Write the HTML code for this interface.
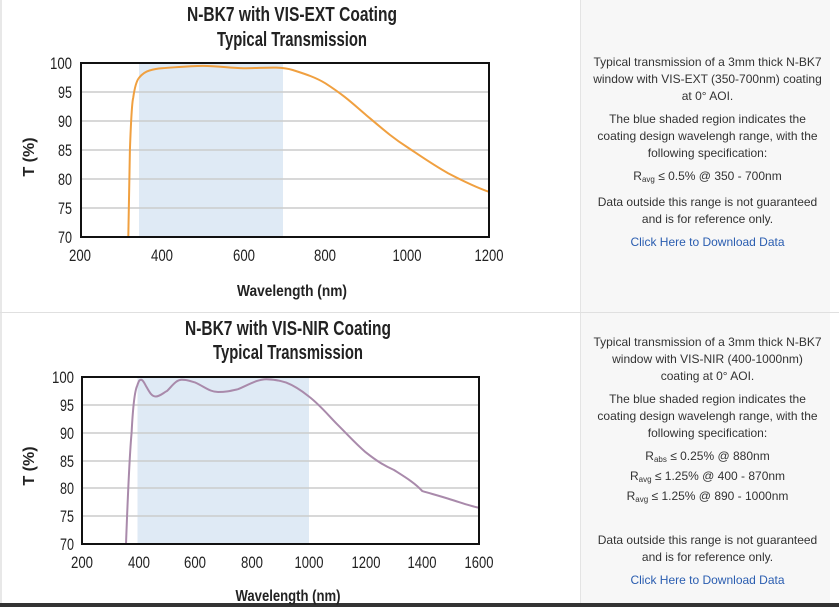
<!DOCTYPE html>
<html><head><meta charset="utf-8"><style>
body{margin:0;width:839px;height:607px;overflow:hidden;background:#fff;font-family:"Liberation Sans",sans-serif}
.side{position:absolute;left:580px;width:249px;background:#f7f7f7;border-left:1px solid #e4e4e4;text-align:center;font-size:12px;color:#333;line-height:17px}
.side > div{padding-left:12px;padding-right:8px}
.side p{margin:0 0 6px 0}
.side a{color:#2a5db0;text-decoration:none}
sub{font-size:8px;vertical-align:-2px}
</style></head><body>
<div style="position:absolute;left:0;top:0;width:2px;height:607px;background:#e8e8e8"></div>
<div style="position:absolute;left:0;top:312px;width:839px;height:1px;background:#e0e0e0"></div>
<div style="position:absolute;left:0;top:603px;width:839px;height:4px;background:#333"></div>
<div class="side" style="top:0;height:312px"><div style="padding-top:54px">
<p>Typical transmission of a 3mm thick N-BK7 window with VIS-EXT (350-700nm) coating at 0° AOI.</p>
<p>The blue shaded region indicates the coating design wavelengh range, with the following specification:</p>
<p>R<sub>avg</sub> ≤ 0.5% @ 350 - 700nm</p>
<p>Data outside this range is not guaranteed and is for reference only.</p>
<p><a>Click Here to Download Data</a></p></div></div>
<div class="side" style="top:313px;height:290px"><div style="padding-top:21px">
<p>Typical transmission of a 3mm thick N-BK7 window with VIS-NIR (400-1000nm) coating at 0° AOI.</p>
<p>The blue shaded region indicates the coating design wavelengh range, with the following specification:</p>
<p>R<sub>abs</sub> ≤ 0.25% @ 880nm<br>R<sub>avg</sub> ≤ 1.25% @ 400 - 870nm<br>R<sub>avg</sub> ≤ 1.25% @ 890 - 1000nm</p>
<p style="margin-top:24px">Data outside this range is not guaranteed and is for reference only.</p>
<p><a>Click Here to Download Data</a></p></div></div>
<svg width="580" height="607" style="position:absolute;left:0;top:0" font-family="Liberation Sans, sans-serif" font-weight="bold" fill="#222">
<text x="292" y="21" font-size="20" text-anchor="middle" textLength="210" lengthAdjust="spacingAndGlyphs">N-BK7 with VIS-EXT Coating</text>
<text x="292" y="46" font-size="20" text-anchor="middle" textLength="150" lengthAdjust="spacingAndGlyphs">Typical Transmission</text>
<rect x="139" y="63" width="144" height="174" fill="#dfeaf5"/>
<g stroke="#ccc" stroke-width="1.5"><line x1="81" x2="489" y1="92" y2="92"/><line x1="81" x2="489" y1="121" y2="121"/><line x1="81" x2="489" y1="150" y2="150"/><line x1="81" x2="489" y1="179" y2="179"/><line x1="81" x2="489" y1="208" y2="208"/></g>
<path d="M128.3,237 C129,200 129.5,160 129.9,150 C131,120 132,102 133.2,97.8 C135,85 137,80 139.3,77.5 C143,73 146,71.5 149.5,70.5 C155,68.8 158,68.4 161.8,68.2 C180,67 190,66 202.7,65.9 C220,66 230,68.2 243.6,68.2 C258,68 268,67.4 276.3,67.6 C284,67.8 288,68.5 292.7,70 C305,74 315,77 325.4,83.3 C345,96 352,103 366.3,115.2 C385,131 393,138 407.2,147.1 C425,159 435,166 448.1,173.2 C465,182 478,188 489,191.8" fill="none" stroke="#f0a040" stroke-width="2"/>
<rect x="81" y="63" width="408" height="174" fill="none" stroke="#111" stroke-width="2"/>
<g font-size="17" text-anchor="end" font-weight="normal" lengthAdjust="spacingAndGlyphs"><text x="72" y="69" textLength="22" lengthAdjust="spacingAndGlyphs">100</text><text x="72" y="98" textLength="14" lengthAdjust="spacingAndGlyphs">95</text><text x="72" y="127" textLength="14" lengthAdjust="spacingAndGlyphs">90</text><text x="72" y="156" textLength="14" lengthAdjust="spacingAndGlyphs">85</text><text x="72" y="185" textLength="14" lengthAdjust="spacingAndGlyphs">80</text><text x="72" y="214" textLength="14" lengthAdjust="spacingAndGlyphs">75</text><text x="72" y="243" textLength="14" lengthAdjust="spacingAndGlyphs">70</text></g>
<g font-size="17" text-anchor="middle" font-weight="normal"><text x="80" y="261" textLength="22" lengthAdjust="spacingAndGlyphs">200</text><text x="162" y="261" textLength="22" lengthAdjust="spacingAndGlyphs">400</text><text x="244" y="261" textLength="22" lengthAdjust="spacingAndGlyphs">600</text><text x="325" y="261" textLength="22" lengthAdjust="spacingAndGlyphs">800</text><text x="407" y="261" textLength="29" lengthAdjust="spacingAndGlyphs">1000</text><text x="489" y="261" textLength="29" lengthAdjust="spacingAndGlyphs">1200</text></g>
<text x="292" y="296" font-size="16" text-anchor="middle" textLength="110" lengthAdjust="spacingAndGlyphs">Wavelength (nm)</text>
<text transform="translate(34,157) rotate(-90)" font-size="16" text-anchor="middle">T (%)</text>
<text x="288" y="335" font-size="20" text-anchor="middle" textLength="206" lengthAdjust="spacingAndGlyphs">N-BK7 with VIS-NIR Coating</text>
<text x="288" y="359" font-size="20" text-anchor="middle" textLength="150" lengthAdjust="spacingAndGlyphs">Typical Transmission</text>
<rect x="137.5" y="377" width="171.5" height="167" fill="#dfeaf5"/>
<g stroke="#ccc" stroke-width="1.5"><line x1="82" x2="479" y1="405" y2="405"/><line x1="82" x2="479" y1="433" y2="433"/><line x1="82" x2="479" y1="461" y2="461"/><line x1="82" x2="479" y1="488" y2="488"/><line x1="82" x2="479" y1="516" y2="516"/></g>
<path d="M126,544 C128,490 130,450 131.6,432.7 C133,405 135,390 137.3,385.4 C139,380 140,379.5 141.6,379.8 C144,381 145,385 147.2,388.1 C150,393 152,396.5 155.7,396.5 C160,396.5 163,393 167.1,390.9 C172,386 176,380 181.3,379.8 C187,379.5 190,381 195.4,382.6 C205,387 210,392 218.1,392 C226,392 230,391 238,389.2 C250,384 258,379.2 266.3,379.2 C274,379.2 280,380.5 286.2,382.6 C295,386 302,391 308.9,396.5 C320,405 328,415 337.2,424.3 C350,437 355,443 365.6,452.2 C378,462 385,466 394,470 C405,477 415,483 422.3,491.1 C432,494 440,496 450.7,499.5 C462,503 470,506 479,507.8" fill="none" stroke="#a98aab" stroke-width="2"/>
<rect x="82" y="377" width="397" height="167" fill="none" stroke="#111" stroke-width="2"/>
<g font-size="17" text-anchor="end" font-weight="normal"><text x="74" y="383" textLength="22" lengthAdjust="spacingAndGlyphs">100</text><text x="74" y="411" textLength="14" lengthAdjust="spacingAndGlyphs">95</text><text x="74" y="439" textLength="14" lengthAdjust="spacingAndGlyphs">90</text><text x="74" y="467" textLength="14" lengthAdjust="spacingAndGlyphs">85</text><text x="74" y="494" textLength="14" lengthAdjust="spacingAndGlyphs">80</text><text x="74" y="522" textLength="14" lengthAdjust="spacingAndGlyphs">75</text><text x="74" y="550" textLength="14" lengthAdjust="spacingAndGlyphs">70</text></g>
<g font-size="17" text-anchor="middle" font-weight="normal"><text x="82" y="568" textLength="22" lengthAdjust="spacingAndGlyphs">200</text><text x="139" y="568" textLength="22" lengthAdjust="spacingAndGlyphs">400</text><text x="195" y="568" textLength="22" lengthAdjust="spacingAndGlyphs">600</text><text x="252" y="568" textLength="22" lengthAdjust="spacingAndGlyphs">800</text><text x="309" y="568" textLength="29" lengthAdjust="spacingAndGlyphs">1000</text><text x="366" y="568" textLength="29" lengthAdjust="spacingAndGlyphs">1200</text><text x="422" y="568" textLength="29" lengthAdjust="spacingAndGlyphs">1400</text><text x="479" y="568" textLength="29" lengthAdjust="spacingAndGlyphs">1600</text></g>
<text x="288" y="601" font-size="16" text-anchor="middle" textLength="105" lengthAdjust="spacingAndGlyphs">Wavelength (nm)</text>
<text transform="translate(34,466) rotate(-90)" font-size="16" text-anchor="middle">T (%)</text>
</svg>
</body></html>
